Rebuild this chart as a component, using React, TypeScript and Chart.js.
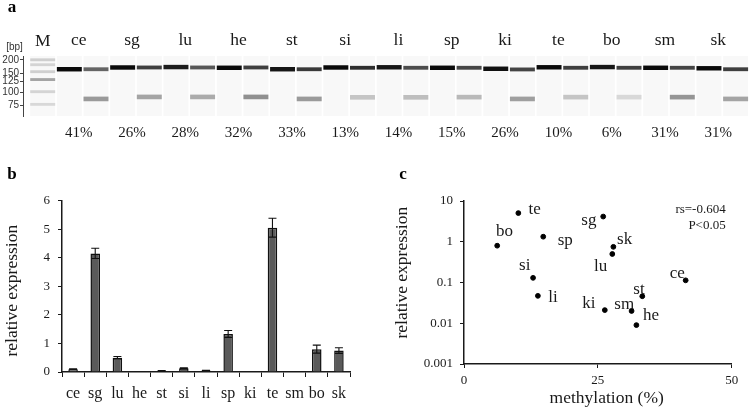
import React, { useEffect, useRef } from "react";
import { Chart, registerables } from "chart.js";

Chart.register(...registerables);

const SERIF = "'Liberation Serif', serif";
const SANS = "'Liberation Sans', sans-serif";
const INK = "#1a1a1a";

// --- Panel a: gel ---
const gelTissues = ["ce", "sg", "lu", "he", "st", "si", "li", "sp", "ki", "te", "bo", "sm", "sk"];
const gelMethylation = ["41%", "26%", "28%", "32%", "33%", "13%", "14%", "15%", "26%", "10%", "6%", "31%", "31%"];
const gelTicks = [200, 150, 125, 100, 75];
const ladderBp = [200, 180, 155, 131, 101, 77];
const ladderDarkness = [0.18, 0.16, 0.18, 0.36, 0.16, 0.14];
const controlBandBp = [163.4, 169.7, 171.2, 168.6, 163.4, 169.7, 170.4, 168.6, 165.1, 170.4, 171.2, 168.6, 166.8];
const controlDarkness = [1, 1, 0.92, 1, 0.95, 1, 0.95, 1, 0.97, 1, 0.95, 1, 1];
const digestUpperBp = [163.4, 169.7, 169.7, 169.7, 163.4, 168.6, 168.6, 168.6, 162.7, 168.6, 168.6, 168.6, 163.4];
const digestUpperDarkness = [0.62, 0.78, 0.68, 0.78, 0.8, 0.85, 0.72, 0.75, 0.76, 0.78, 0.78, 0.76, 0.78];
const digestLowerBp = [86.5, 90.3, 90.3, 90.3, 86.5, 89.5, 89.5, 89.9, 86.5, 89.9, 89.9, 89.9, 86.5];
const digestLowerDarkness = [0.4, 0.36, 0.33, 0.44, 0.4, 0.22, 0.25, 0.27, 0.38, 0.22, 0.14, 0.42, 0.36];

// --- Panel b: expression bars ---
const barTissues = ["ce", "sg", "lu", "he", "st", "si", "li", "sp", "ki", "te", "sm", "bo", "sk"];
const barExpression = [0.1, 4.15, 0.5, 0.01, 0.04, 0.13, 0.05, 1.33, 0.02, 5.05, 0.02, 0.8, 0.75];
const barError = [0.01, 0.18, 0.04, 0, 0.01, 0.02, 0.01, 0.12, 0, 0.33, 0, 0.14, 0.1];

// --- Panel c: scatter ---
const scatterNames = ["te", "bo", "sp", "sg", "sk", "lu", "si", "li", "ki", "sm", "st", "he", "ce"];
const scatterMethylation = [10.15, 6.2, 14.8, 26, 27.9, 27.7, 12.9, 13.8, 26.3, 31.3, 33.3, 32.2, 41.4];
const scatterExpression = [5.05, 0.8, 1.33, 4.15, 0.75, 0.5, 0.13, 0.047, 0.021, 0.02, 0.046, 0.009, 0.113];
const scatterLogTicks = [0.001, 0.01, 0.1, 1, 10];
const statLines = ["rs=-0.604", "P<0.05"];

// Label placement relative to each scatter point (pixels).
const scatterLabelOffsets: Record<string, number[]> = {
  te: [16.3, -4], bo: [7.3, -14], sp: [22, 3.5], sg: [-14.3, 3.5], sk: [11.3, -7.3], lu: [-11.7, 13],
  si: [-8.3, -12.3], li: [15, 2], ki: [-16, -7], sm: [-7.3, -6.7], st: [-3.3, -7], he: [14.7, -9.7], ce: [-8.3, -6.7],
};

const gray = (darkness: number) => {
  const v = Math.round(250 - 240 * darkness);
  return `rgb(${v},${v},${v})`;
};

const put = (ctx: any, text: string, x: number, y: number, font: string, align = "center", angle = 0, color = INK) => {
  ctx.save();
  ctx.translate(x, y);
  if (angle) ctx.rotate(angle);
  ctx.font = font;
  ctx.fillStyle = color;
  ctx.textAlign = align;
  ctx.textBaseline = "middle";
  ctx.fillText(text, 0, 0);
  ctx.restore();
};

const band = (centre: number, halfPx: number) => {
  const f = Math.pow(10, halfPx / 108);
  return [centre / f, centre * f];
};

function gelConfig(): any {
  const laneCount = gelTissues.length * 2;
  const laneX = Array.from({ length: laneCount + 1 }, (_, i) => i);
  const controlX = gelTissues.map((_, i) => 2 * i + 1);
  const digestX = gelTissues.map((_, i) => 2 * i + 2);
  const barDefaults = { grouped: false, barThickness: 24.3, borderWidth: 0, borderSkipped: false };
  return {
    type: "bar",
    data: {
      datasets: [
        { ...barDefaults, order: 5, label: "lane", backgroundColor: "#f8f8f8", data: laneX.map((x) => ({ x, y: [60, 217] })) },
        { ...barDefaults, order: 1, label: "ladder", backgroundColor: ladderDarkness.map(gray), data: ladderBp.map((b) => ({ x: 0, y: band(b, 1.1) })) },
        { ...barDefaults, order: 1, label: "control", backgroundColor: controlDarkness.map(gray), data: controlBandBp.map((b, i) => ({ x: controlX[i], y: band(b, 1.9) })) },
        { ...barDefaults, order: 1, label: "digest upper", backgroundColor: digestUpperDarkness.map(gray), data: digestUpperBp.map((b, i) => ({ x: digestX[i], y: band(b, 1.6) })) },
        { ...barDefaults, order: 1, label: "digest lower", backgroundColor: digestLowerDarkness.map(gray), data: digestLowerBp.map((b, i) => ({ x: digestX[i], y: band(b, 2) })) },
      ],
    },
    options: {
      responsive: false,
      animation: false,
      devicePixelRatio: 1,
      layout: { padding: { left: 0, right: 1, top: 56, bottom: 34 } },
      plugins: { legend: { display: false }, tooltip: { enabled: false } },
      scales: {
        x: { type: "linear", offset: false, min: -0.739, max: 26.54, display: false, grid: { display: false } },
        y: {
          type: "logarithmic",
          min: 60,
          max: 217,
          afterBuildTicks: (s: any) => { s.ticks = gelTicks.map((value) => ({ value })); },
          afterFit: (s: any) => { s.width = 23; },
          border: { color: "#444", width: 1 },
          grid: { drawOnChartArea: false, tickLength: 3, color: "#444" },
          ticks: { autoSkip: false, padding: 1, color: "#333", font: { family: SANS, size: 10 }, callback: (v: any) => String(v) },
        },
      },
    },
    plugins: [
      {
        id: "gelSoft",
        beforeDatasetDraw: (c: any) => { c.ctx.filter = "blur(0.7px)"; },
        afterDatasetDraw: (c: any) => { c.ctx.filter = "none"; },
      },
      {
        id: "gelText",
        afterDraw: (c: any) => {
          const { ctx, scales: { x } } = c;
          put(ctx, "a", 12, 8, `bold 17px ${SERIF}`, "center", 0, "#000");
          put(ctx, "[bp]", 14.5, 47.5, `10px ${SANS}`, "center", 0, "#333");
          put(ctx, "M", x.getPixelForValue(0), 41, `17.5px ${SERIF}`);
          gelTissues.forEach((t, i) => {
            const px = x.getPixelForValue(2 * i + 1.5) - 4;
            put(ctx, t, px, 40.5, `17.5px ${SERIF}`);
            put(ctx, gelMethylation[i], px, 133, `15px ${SERIF}`);
          });
        },
      },
    ],
  };
}

function barConfig(): any {
  return {
    type: "bar",
    data: {
      labels: barTissues,
      datasets: [{
        label: "relative expression",
        data: barExpression,
        backgroundColor: "#5a5a5a",
        borderColor: "#111",
        borderWidth: 1.5,
        barPercentage: 0.43,
        categoryPercentage: 1,
      }],
    },
    options: {
      responsive: false,
      animation: false,
      devicePixelRatio: 1,
      layout: { padding: { left: 0, right: 20, top: 40.5, bottom: 0 } },
      plugins: { legend: { display: false }, tooltip: { enabled: false } },
      scales: {
        x: {
          afterFit: (s: any) => { s.height = 38; },
          border: { color: INK, width: 1.5 },
          grid: { drawOnChartArea: false, tickLength: 5, color: INK, offset: true },
          ticks: { autoSkip: false, maxRotation: 0, padding: 7, color: INK, font: { family: SERIF, size: 16 } },
        },
        y: {
          min: 0,
          max: 6,
          afterFit: (s: any) => { s.width = 62; },
          border: { color: INK, width: 1.5 },
          grid: { drawOnChartArea: false, tickLength: 4, color: INK },
          ticks: { stepSize: 1, padding: 8, color: INK, font: { family: SERIF, size: 13 } },
        },
      },
    },
    plugins: [{
      id: "errorBars",
      afterDatasetsDraw: (c: any) => {
        const { ctx, scales: { x, y } } = c;
        ctx.save();
        ctx.strokeStyle = "#111";
        ctx.lineWidth = 1.1;
        barExpression.forEach((v, i) => {
          const e = barError[i];
          if (!e) return;
          const px = x.getPixelForValue(i);
          const hi = y.getPixelForValue(v + e);
          const lo = y.getPixelForValue(Math.max(v - e, 0));
          ctx.beginPath();
          ctx.moveTo(px, hi); ctx.lineTo(px, lo);
          ctx.moveTo(px - 4, hi); ctx.lineTo(px + 4, hi);
          ctx.moveTo(px - 4, lo); ctx.lineTo(px + 4, lo);
          ctx.stroke();
        });
        ctx.restore();
        put(ctx, "b", 12, 14.7, `bold 17px ${SERIF}`, "center", 0, "#000");
        put(ctx, "relative expression", 12, 130.7, `17.5px ${SERIF}`, "center", -Math.PI / 2);
      },
    }],
  };
}

function scatterConfig(): any {
  return {
    type: "scatter",
    data: {
      datasets: [{
        label: "tissues",
        data: scatterMethylation.map((x, i) => ({ x, y: scatterExpression[i] })),
        backgroundColor: "#000",
        borderColor: "#000",
        pointRadius: 2.4,
      }],
    },
    options: {
      responsive: false,
      animation: false,
      devicePixelRatio: 1,
      layout: { padding: { left: 0, right: 19.3, top: 41, bottom: 0 } },
      plugins: { legend: { display: false }, tooltip: { enabled: false } },
      scales: {
        x: {
          type: "linear",
          min: 0,
          max: 50,
          afterFit: (s: any) => { s.height = 46; },
          border: { color: INK, width: 1.5 },
          grid: { drawOnChartArea: false, tickLength: 4, color: INK },
          ticks: { stepSize: 25, padding: 5, color: INK, maxRotation: 0, font: { family: SERIF, size: 13 } },
        },
        y: {
          type: "logarithmic",
          min: 0.001,
          max: 10,
          afterBuildTicks: (s: any) => { s.ticks = scatterLogTicks.map((value) => ({ value })); },
          afterFit: (s: any) => { s.width = 74; },
          border: { color: INK, width: 1.5 },
          grid: { drawOnChartArea: false, tickLength: 4, color: INK },
          ticks: { autoSkip: false, padding: 7, color: INK, font: { family: SERIF, size: 13 }, callback: (v: any) => String(v) },
        },
      },
    },
    plugins: [{
      id: "scatterText",
      afterDatasetsDraw: (c: any) => {
        const { ctx, scales: { x, y } } = c;
        scatterNames.forEach((n, i) => {
          const [dx, dy] = scatterLabelOffsets[n];
          put(ctx, n, x.getPixelForValue(scatterMethylation[i]) + dx, y.getPixelForValue(scatterExpression[i]) + dy, `17px ${SERIF}`);
        });
        statLines.forEach((t, i) => put(ctx, t, 335.7, 50 + i * 15.7, `13px ${SERIF}`, "right"));
        put(ctx, "c", 13, 14.7, `bold 17px ${SERIF}`, "center", 0, "#000");
        put(ctx, "relative expression", 12, 112.7, `17.5px ${SERIF}`, "center", -Math.PI / 2);
        put(ctx, "methylation (%)", 216.7, 238, `17.5px ${SERIF}`);
      },
    }],
  };
}

function Panel({ make, left, top, width, height }: any) {
  const ref = useRef<HTMLCanvasElement>(null);
  useEffect(() => {
    const chart = new Chart(ref.current as any, make());
    return () => chart.destroy();
  }, [make]);
  return (
    <canvas
      ref={ref}
      width={width}
      height={height}
      style={{ position: "absolute", left, top, width, height, display: "block" }}
    />
  );
}

export default function App() {
  return (
    <div style={{ position: "absolute", left: 0, top: 0, width: 751, height: 410, background: "#fff", overflow: "hidden" }}>
      <Panel make={gelConfig} left={0} top={0} width={751} height={150} />
      <Panel make={barConfig} left={0} top={160} width={370} height={250} />
      <Panel make={scatterConfig} left={390} top={160} width={361} height={250} />
    </div>
  );
}
